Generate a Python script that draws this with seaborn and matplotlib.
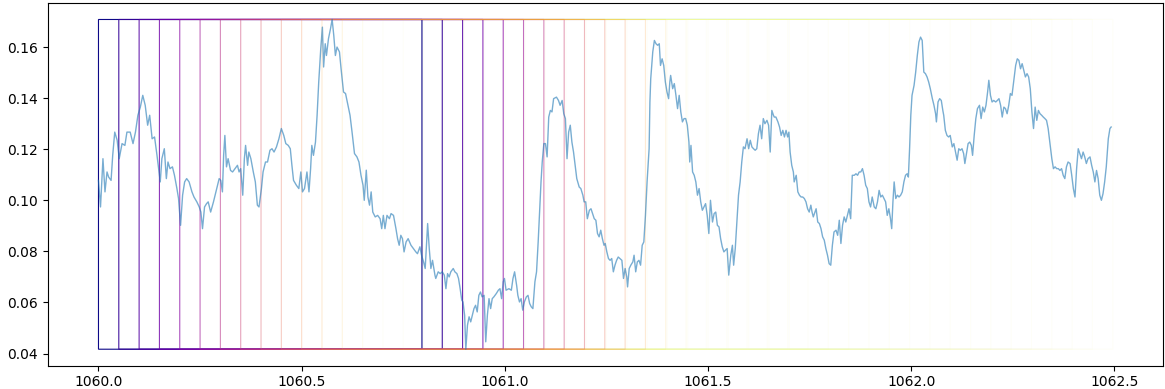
import matplotlib
matplotlib.use("Agg")
import matplotlib.pyplot as plt
from matplotlib.patches import Rectangle
import numpy as np
import seaborn as sns

# Sampled signal (seconds, amplitude)
time_s = [
    1060.000, 1060.005, 1060.011, 1060.016, 1060.021, 1060.025, 1060.031, 1060.035, 1060.040, 1060.046,
    1060.051, 1060.058, 1060.065, 1060.070, 1060.078, 1060.085, 1060.091, 1060.097, 1060.103, 1060.109,
    1060.115, 1060.121, 1060.126, 1060.132, 1060.138, 1060.144, 1060.148, 1060.152, 1060.156, 1060.162,
    1060.167, 1060.171, 1060.176, 1060.182, 1060.187, 1060.193, 1060.197, 1060.202, 1060.207, 1060.212,
    1060.217, 1060.223, 1060.230, 1060.235, 1060.242, 1060.248, 1060.252, 1060.256, 1060.261, 1060.266,
    1060.270, 1060.276, 1060.283, 1060.291, 1060.297, 1060.301, 1060.305, 1060.308, 1060.311, 1060.315,
    1060.319, 1060.325, 1060.330, 1060.336, 1060.342, 1060.346, 1060.350, 1060.355, 1060.359, 1060.362,
    1060.367, 1060.370, 1060.375, 1060.381, 1060.386, 1060.391, 1060.395, 1060.401, 1060.405, 1060.411,
    1060.416, 1060.422, 1060.427, 1060.432, 1060.438, 1060.444, 1060.450, 1060.456, 1060.461, 1060.467,
    1060.472, 1060.476, 1060.480, 1060.487, 1060.493, 1060.498, 1060.502, 1060.507, 1060.513, 1060.518,
    1060.522, 1060.525, 1060.529, 1060.534, 1060.538, 1060.542, 1060.547, 1060.551, 1060.554, 1060.558,
    1060.561, 1060.566, 1060.571, 1060.575, 1060.579, 1060.583, 1060.587, 1060.593, 1060.597, 1060.603,
    1060.608, 1060.614, 1060.619, 1060.624, 1060.630, 1060.636, 1060.641, 1060.646, 1060.651, 1060.654,
    1060.659, 1060.663, 1060.667, 1060.671, 1060.675, 1060.681, 1060.687, 1060.693, 1060.697, 1060.701,
    1060.705, 1060.710, 1060.716, 1060.720, 1060.726, 1060.732, 1060.736, 1060.740, 1060.744, 1060.748,
    1060.752, 1060.757, 1060.762, 1060.769, 1060.775, 1060.781, 1060.785, 1060.791, 1060.795, 1060.800,
    1060.804, 1060.810, 1060.814, 1060.818, 1060.822, 1060.828,
    1060.830, 1060.836, 1060.841, 1060.846, 1060.851, 1060.855, 1060.859, 1060.863, 1060.867, 1060.873,
    1060.877, 1060.882, 1060.886, 1060.890, 1060.894, 1060.897, 1060.901, 1060.904, 1060.908, 1060.912,
    1060.916, 1060.920, 1060.924, 1060.928, 1060.932, 1060.936, 1060.940, 1060.944, 1060.949, 1060.953,
    1060.957, 1060.961, 1060.965, 1060.969, 1060.973, 1060.979, 1060.984, 1060.988, 1060.992, 1060.996,
    1060.999, 1061.003, 1061.010, 1061.016, 1061.020, 1061.024, 1061.029, 1061.032, 1061.036, 1061.040,
    1061.044, 1061.048, 1061.053, 1061.057, 1061.061, 1061.065, 1061.069, 1061.074, 1061.078, 1061.082,
    1061.086, 1061.089, 1061.092, 1061.096, 1061.100, 1061.104, 1061.108, 1061.112, 1061.116, 1061.120,
    1061.127, 1061.132, 1061.136, 1061.141, 1061.145, 1061.149, 1061.153, 1061.157, 1061.161, 1061.165,
    1061.169, 1061.173, 1061.177, 1061.183, 1061.187, 1061.192, 1061.195, 1061.199, 1061.203, 1061.208,
    1061.212, 1061.216, 1061.220, 1061.224, 1061.228, 1061.232, 1061.236, 1061.240, 1061.244,
    1061.247, 1061.251, 1061.255, 1061.259, 1061.263, 1061.267, 1061.271, 1061.275, 1061.279, 1061.283,
    1061.288, 1061.292, 1061.296, 1061.300, 1061.302, 1061.306, 1061.310, 1061.315, 1061.318, 1061.322,
    1061.326, 1061.330, 1061.334, 1061.338, 1061.342, 1061.346, 1061.350, 1061.355, 1061.357, 1061.359,
    1061.364, 1061.368, 1061.372, 1061.376, 1061.380, 1061.383, 1061.387, 1061.391, 1061.395, 1061.399,
    1061.403, 1061.406, 1061.408, 1061.413, 1061.417, 1061.421, 1061.425, 1061.429, 1061.433, 1061.437,
    1061.441, 1061.445, 1061.449, 1061.453, 1061.455, 1061.458, 1061.462, 1061.466, 1061.470, 1061.474,
    1061.478, 1061.482, 1061.486, 1061.490, 1061.494, 1061.498, 1061.502, 1061.506, 1061.511, 1061.515,
    1061.519, 1061.523, 1061.527, 1061.531, 1061.535, 1061.539, 1061.543, 1061.547, 1061.551, 1061.556,
    1061.560, 1061.563, 1061.567, 1061.571, 1061.575, 1061.579, 1061.583, 1061.587, 1061.591, 1061.596,
    1061.600, 1061.604, 1061.608, 1061.612, 1061.616, 1061.620, 1061.624, 1061.628, 1061.632, 1061.636,
    1061.640, 1061.645, 1061.649, 1061.653, 1061.657, 1061.661,
    1061.663, 1061.667, 1061.672, 1061.676, 1061.680, 1061.684, 1061.688, 1061.692, 1061.696, 1061.699,
    1061.702, 1061.706, 1061.710, 1061.712, 1061.717, 1061.721, 1061.725, 1061.729, 1061.733, 1061.737,
    1061.741, 1061.745, 1061.749, 1061.753, 1061.756, 1061.759, 1061.763, 1061.766, 1061.770, 1061.774,
    1061.778, 1061.782, 1061.786, 1061.790, 1061.794, 1061.798, 1061.802, 1061.806, 1061.810, 1061.815,
    1061.819, 1061.823, 1061.827, 1061.831, 1061.835, 1061.839, 1061.843, 1061.847, 1061.851, 1061.855,
    1061.860, 1061.864, 1061.868, 1061.872, 1061.876, 1061.880, 1061.884, 1061.888, 1061.892, 1061.896,
    1061.900, 1061.904, 1061.909, 1061.913, 1061.917, 1061.921, 1061.925, 1061.929, 1061.933, 1061.937,
    1061.941, 1061.945, 1061.949, 1061.952, 1061.955, 1061.958, 1061.962, 1061.966, 1061.970, 1061.974,
    1061.978, 1061.982, 1061.986, 1061.990, 1061.993, 1061.996, 1061.999, 1062.002, 1062.007, 1062.011,
    1062.015, 1062.019, 1062.023, 1062.027, 1062.031, 1062.035, 1062.039, 1062.043, 1062.047, 1062.052,
    1062.056, 1062.060, 1062.062, 1062.066, 1062.070, 1062.074, 1062.078,
    1062.080, 1062.084, 1062.088, 1062.092, 1062.096, 1062.101, 1062.105, 1062.109, 1062.113, 1062.117,
    1062.121, 1062.125, 1062.129, 1062.132, 1062.136, 1062.140, 1062.144, 1062.148, 1062.151, 1062.155,
    1062.159, 1062.163, 1062.168, 1062.172, 1062.176, 1062.180, 1062.184, 1062.188, 1062.191, 1062.195,
    1062.199, 1062.203, 1062.208, 1062.212, 1062.216, 1062.220, 1062.224, 1062.228, 1062.232, 1062.236,
    1062.240, 1062.244, 1062.248, 1062.252, 1062.257, 1062.261, 1062.265, 1062.269, 1062.273, 1062.277,
    1062.281, 1062.285, 1062.289, 1062.293, 1062.297, 1062.301, 1062.305, 1062.309, 1062.313, 1062.317,
    1062.321, 1062.325, 1062.329, 1062.333, 1062.337, 1062.342, 1062.346, 1062.350, 1062.354, 1062.358,
    1062.362, 1062.366, 1062.370, 1062.374, 1062.378, 1062.382, 1062.386, 1062.391, 1062.395, 1062.399,
    1062.403, 1062.407, 1062.411, 1062.415, 1062.419, 1062.423, 1062.427, 1062.431, 1062.435, 1062.440,
    1062.444, 1062.448, 1062.452, 1062.456, 1062.460, 1062.464, 1062.468, 1062.472, 1062.476, 1062.480,
    1062.485, 1062.489, 1062.492,
]

signal = [
    0.1078, 0.0974, 0.1163, 0.1033, 0.1111, 0.1091, 0.1078, 0.1176, 0.1267, 0.1235,
    0.1163, 0.1222, 0.1215, 0.1267, 0.1267, 0.1222, 0.1267, 0.1333, 0.1365, 0.1411,
    0.1372, 0.1294, 0.1333, 0.1241, 0.1248, 0.1176, 0.1124, 0.1072, 0.1163, 0.1202,
    0.1085, 0.1150, 0.1124, 0.1131, 0.1098, 0.1046, 0.1007, 0.0902, 0.1020, 0.1072,
    0.1085, 0.1072, 0.1033, 0.1013, 0.0994, 0.0974, 0.0954, 0.0889, 0.0974, 0.0987,
    0.0994, 0.0954, 0.0994, 0.1046, 0.1085, 0.1078, 0.1033, 0.1176, 0.1254, 0.1131,
    0.1163, 0.1117, 0.1111, 0.1124, 0.1137, 0.1111, 0.1124, 0.1020, 0.1163, 0.1215,
    0.1137, 0.1189, 0.1163, 0.1111, 0.1072, 0.0981, 0.0974, 0.1046, 0.1111, 0.1150,
    0.1150, 0.1196, 0.1202, 0.1189, 0.1209, 0.1241, 0.1281, 0.1254, 0.1222, 0.1215,
    0.1202, 0.1137, 0.1078, 0.1059, 0.1046, 0.1111, 0.1033, 0.1046, 0.1111, 0.1033,
    0.1124, 0.1215, 0.1176, 0.1228, 0.1333, 0.1463, 0.1594, 0.1678, 0.1522, 0.1613,
    0.1567, 0.1633, 0.1672, 0.1708, 0.1646, 0.1567, 0.1600, 0.1581, 0.1515, 0.1424,
    0.1418, 0.1372, 0.1333, 0.1267, 0.1183, 0.1170, 0.1150, 0.1098, 0.1059, 0.1000,
    0.1118, 0.1013, 0.0981, 0.1033, 0.0954, 0.0935, 0.0941, 0.0928, 0.0889, 0.0941,
    0.0889, 0.0941, 0.0928, 0.0948, 0.0941, 0.0889, 0.0850, 0.0824, 0.0863, 0.0850,
    0.0798, 0.0837, 0.0850, 0.0824, 0.0811, 0.0798, 0.0791, 0.0818, 0.0785, 0.0759,
    0.0733, 0.0909, 0.0811, 0.0733, 0.0765, 0.0707,
    0.0694, 0.0720, 0.0713, 0.0720, 0.0707, 0.0654, 0.0713, 0.0700, 0.0720, 0.0733,
    0.0720, 0.0713, 0.0694, 0.0654, 0.0609, 0.0602, 0.0550, 0.0417, 0.0511, 0.0544,
    0.0524, 0.0550, 0.0576, 0.0589, 0.0563, 0.0628, 0.0641, 0.0622, 0.0628, 0.0446,
    0.0550, 0.0615, 0.0576, 0.0615, 0.0622, 0.0635, 0.0648, 0.0654, 0.0615, 0.0681,
    0.0694, 0.0648, 0.0654, 0.0648, 0.0694, 0.0720, 0.0667, 0.0628, 0.0602, 0.0615,
    0.0570, 0.0602, 0.0622, 0.0628, 0.0596, 0.0583, 0.0576, 0.0681, 0.0720, 0.0837,
    0.0967, 0.1072, 0.1150, 0.1222, 0.1222, 0.1170, 0.1326, 0.1352, 0.1346, 0.1398,
    0.1404, 0.1391, 0.1372, 0.1391, 0.1339, 0.1320, 0.1163, 0.1267, 0.1294, 0.1228,
    0.1189, 0.1137, 0.1085, 0.1052, 0.1046, 0.1020, 0.0994, 0.0994, 0.0928, 0.0961,
    0.0967, 0.0948, 0.0928, 0.0922, 0.0870, 0.0857, 0.0883, 0.0850, 0.0824,
    0.0831, 0.0798, 0.0772, 0.0765, 0.0772, 0.0720, 0.0746, 0.0765, 0.0778, 0.0772,
    0.0765, 0.0694, 0.0733, 0.0700, 0.0661, 0.0733, 0.0746, 0.0759, 0.0785, 0.0720,
    0.0759, 0.0765, 0.0746, 0.0824, 0.0837, 0.0941, 0.1072, 0.1202, 0.1385, 0.1476,
    0.1581, 0.1626, 0.1613, 0.1607, 0.1613, 0.1528, 0.1554, 0.1528, 0.1463, 0.1424,
    0.1398, 0.1463, 0.1489, 0.1437, 0.1457, 0.1411, 0.1359, 0.1411, 0.1346, 0.1307,
    0.1320, 0.1320, 0.1294, 0.1228, 0.1150, 0.1215, 0.1111, 0.1098, 0.1072, 0.1020,
    0.1046, 0.0994, 0.0961, 0.0974, 0.0987, 0.0941, 0.0870, 0.1000, 0.0915, 0.0948,
    0.0954, 0.0902, 0.0896, 0.0850, 0.0818, 0.0798, 0.0805, 0.0811, 0.0707, 0.0785,
    0.0824, 0.0746, 0.0811, 0.0915, 0.1020, 0.1072, 0.1150, 0.1209, 0.1202, 0.1241,
    0.1202, 0.1235, 0.1209, 0.1202, 0.1196, 0.1202, 0.1261, 0.1294, 0.1241, 0.1320,
    0.1300, 0.1313, 0.1294, 0.1189, 0.1352, 0.1333,
    0.1326, 0.1326, 0.1307, 0.1287, 0.1254, 0.1274, 0.1248, 0.1274, 0.1248, 0.1267,
    0.1189, 0.1137, 0.1111, 0.1072, 0.1098, 0.1033, 0.1020, 0.1013, 0.1013, 0.1007,
    0.0994, 0.0967, 0.0954, 0.0981, 0.0954, 0.0935, 0.0954, 0.0967, 0.0915, 0.0909,
    0.0889, 0.0857, 0.0844, 0.0811, 0.0785, 0.0752, 0.0746, 0.0824, 0.0876, 0.0883,
    0.0863, 0.0922, 0.0831, 0.0902, 0.0935, 0.0915, 0.0941, 0.0967, 0.0928, 0.1098,
    0.1098, 0.1104, 0.1098, 0.1111, 0.1111, 0.1124, 0.1098, 0.1059, 0.1046, 0.0994,
    0.0974, 0.1013, 0.0974, 0.0967, 0.0994, 0.1039, 0.1013, 0.1020, 0.1007, 0.0994,
    0.0941, 0.0967, 0.0928, 0.0889, 0.0994, 0.1072, 0.1007, 0.1020, 0.1013, 0.1020,
    0.1033, 0.1072, 0.1098, 0.1104, 0.1091, 0.1202, 0.1333, 0.1411, 0.1450, 0.1502,
    0.1567, 0.1620, 0.1639, 0.1626, 0.1502, 0.1496, 0.1483, 0.1463, 0.1437, 0.1398,
    0.1372, 0.1339, 0.1307, 0.1385, 0.1398, 0.1391, 0.1350,
    0.1333, 0.1274, 0.1254, 0.1248, 0.1254, 0.1209, 0.1222, 0.1189, 0.1157, 0.1202,
    0.1196, 0.1202, 0.1183, 0.1144, 0.1183, 0.1222, 0.1228, 0.1215, 0.1176, 0.1254,
    0.1320, 0.1359, 0.1372, 0.1320, 0.1365, 0.1346, 0.1372, 0.1424, 0.1470, 0.1411,
    0.1385, 0.1391, 0.1385, 0.1391, 0.1398, 0.1372, 0.1326, 0.1365, 0.1359, 0.1339,
    0.1372, 0.1418, 0.1411, 0.1463, 0.1528, 0.1554, 0.1548, 0.1515, 0.1535, 0.1509,
    0.1483, 0.1496, 0.1483, 0.1437, 0.1346, 0.1281, 0.1365, 0.1313, 0.1352, 0.1339,
    0.1333, 0.1326, 0.1320, 0.1313, 0.1281, 0.1215, 0.1163, 0.1124, 0.1131, 0.1124,
    0.1124, 0.1117, 0.1124, 0.1098, 0.1085, 0.1131, 0.1150, 0.1144, 0.1098, 0.1046,
    0.1013, 0.1124, 0.1202, 0.1183, 0.1163, 0.1189, 0.1170, 0.1144, 0.1163, 0.1170,
    0.1137, 0.1111, 0.1072, 0.1117, 0.1085, 0.1020, 0.1000, 0.1026, 0.1072, 0.1131,
    0.1241, 0.1281, 0.1287,
]

# Sliding analysis windows: start times and common length (s)
window_starts = [
    1060.00, 1060.05, 1060.10, 1060.15, 1060.20, 1060.25, 1060.30, 1060.35, 1060.40, 1060.45,
    1060.50, 1060.55, 1060.60, 1060.65, 1060.70, 1060.75, 1060.80, 1060.85, 1060.90, 1060.95,
    1061.00, 1061.05, 1061.10, 1061.15, 1061.20, 1061.25, 1061.30, 1061.35, 1061.40, 1061.45,
    1061.50, 1061.55, 1061.60, 1061.65, 1061.70,
]
window_length = 0.796

plt.rcParams["font.family"] = ["DejaVu Sans"]

fig, ax = plt.subplots(figsize=(11.65, 3.89), dpi=100)
fig.subplots_adjust(left=0.041, right=0.9987, bottom=0.0599, top=0.9923)

sns.lineplot(x=time_s, y=signal, ax=ax, color="C0", linewidth=1.0, alpha=0.6,
             estimator=None, sort=False)

# Each window outlined in a plasma hue that fades out over the first 14 windows
lo, hi = min(signal), max(signal)
cmap = plt.get_cmap("plasma")
n_fade = 14
for i, start in enumerate(window_starts):
    frac = min(i / n_fade, 1.0)
    ax.add_patch(Rectangle((start, lo), window_length, hi - lo, fill=False,
                           edgecolor=cmap(frac), alpha=max(1.0 - frac, 0.03),
                           linewidth=0.8, snap=False))

ax.autoscale_view()
fig.savefig("out.png", dpi=100)
